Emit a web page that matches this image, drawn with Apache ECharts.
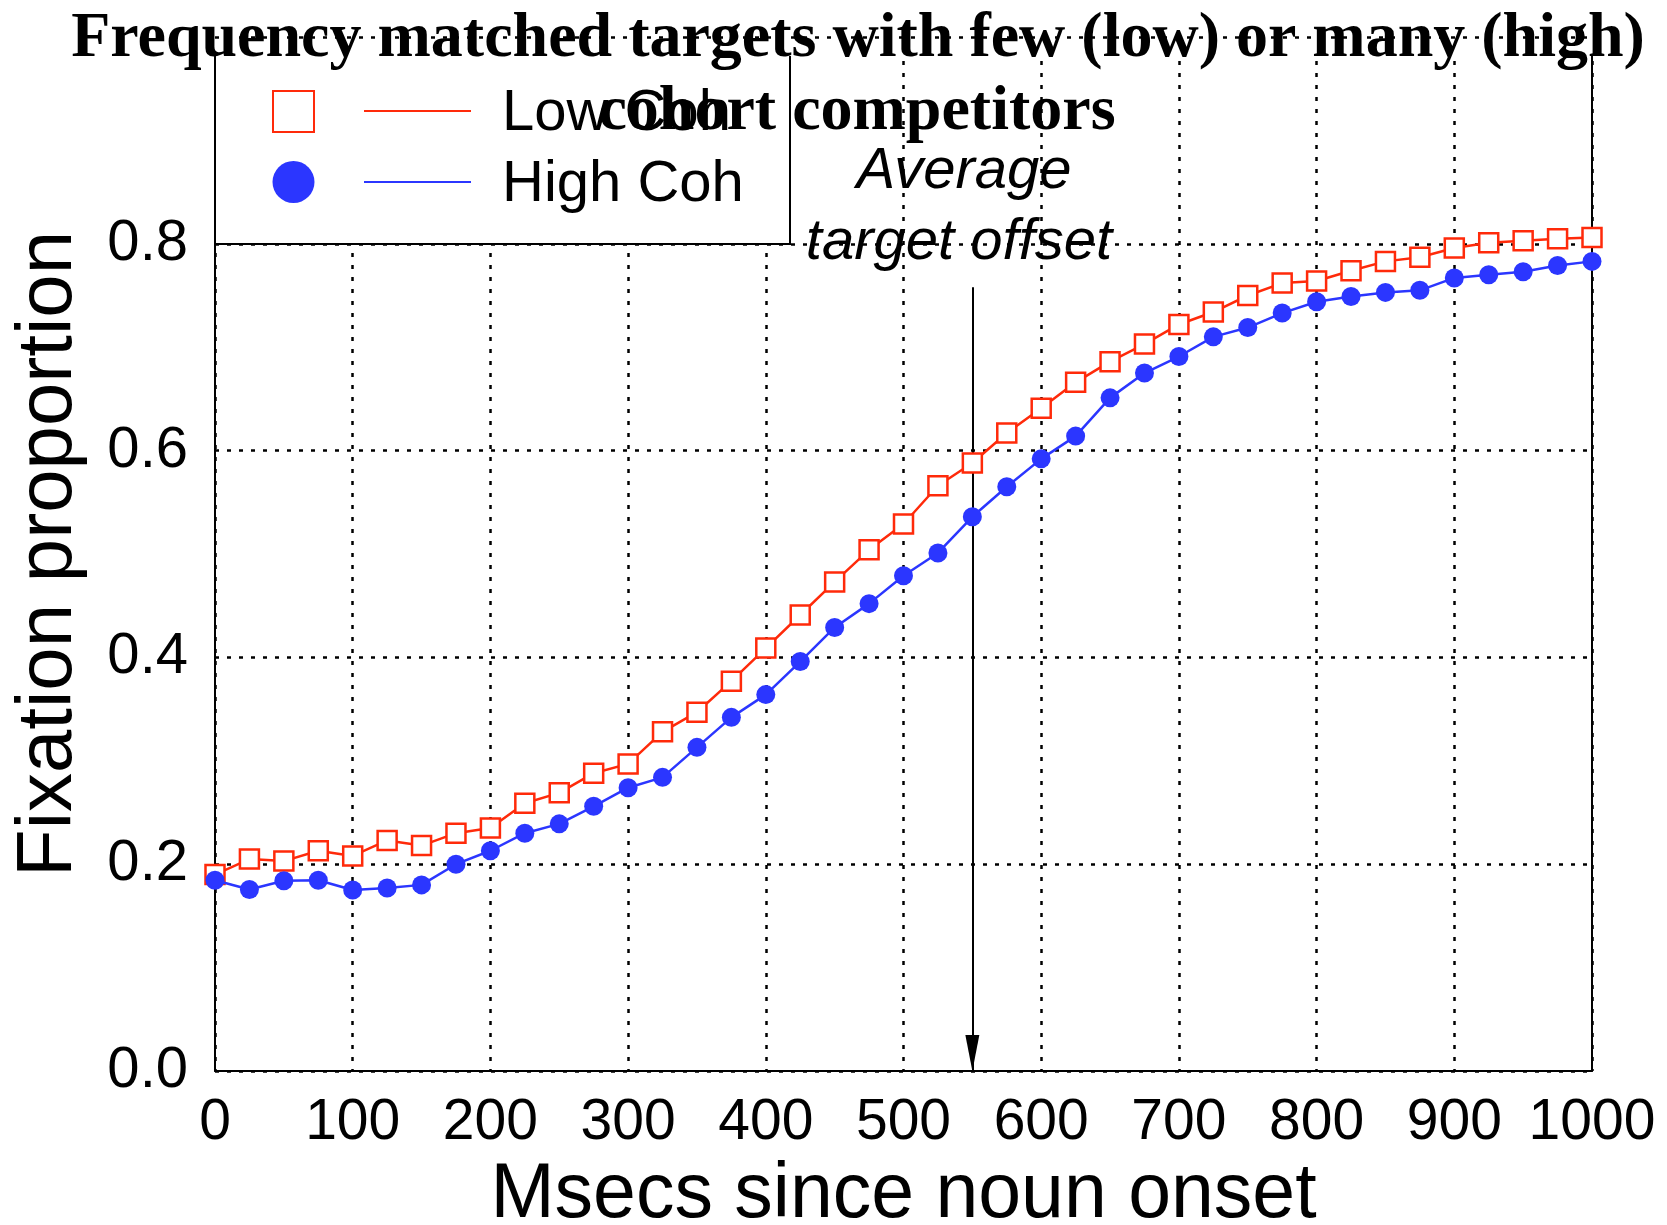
<!DOCTYPE html>
<html><head><meta charset="utf-8">
<script src="https://cdn.jsdelivr.net/npm/echarts@6/dist/echarts.min.js"></script>
<style>html,body{margin:0;padding:0;background:#fff}#c{width:1667px;height:1225px}</style>
</head><body><div id="c"></div>
<script>
const times = [0,25,50,75,100,125,150,175,200,225,250,275,300,325,350,375,400,425,450,475,500,525,550,575,600,625,650,675,700,725,750,775,800,825,850,875,900,925,950,975,1000];
const lowCoh = [0.190,0.205,0.203,0.213,0.208,0.223,0.218,0.230,0.235,0.259,0.269,0.288,0.297,0.328,0.347,0.377,0.409,0.441,0.473,0.504,0.529,0.566,0.588,0.617,0.641,0.666,0.686,0.703,0.722,0.734,0.750,0.762,0.764,0.774,0.783,0.787,0.796,0.801,0.803,0.805,0.806];
const highCoh = [0.1845,0.1755,0.184,0.1845,0.175,0.177,0.180,0.200,0.213,0.230,0.239,0.256,0.274,0.284,0.313,0.342,0.364,0.396,0.429,0.452,0.479,0.501,0.536,0.565,0.592,0.614,0.651,0.675,0.691,0.710,0.719,0.733,0.744,0.749,0.753,0.755,0.767,0.770,0.773,0.779,0.783];
const seriesNames = ['Low Coh', 'High Coh'];
const titleLines = ['Frequency matched targets with few (low) or many (high)', 'cohort competitors'];
const annotationLines = ['Average', 'target offset'];
const arrowAt = 550;
const arrowTop = 0.758;
const yMax = 1;
const xName = 'Msecs since noun onset';
const yName = 'Fixation proportion';

const RED = '#ff2a0a', BLUE = '#2b36ff';
const sans = '"Liberation Sans", Arial, Helvetica, sans-serif';
const serif = '"Liberation Serif", "Times New Roman", serif';
const dotted = { color: '#000', width: 2.5, type: [4, 8] };

const chart = echarts.init(document.getElementById('c'), null, { renderer: 'canvas' });

const option = {
  backgroundColor: '#fff',
  animation: false,
  grid: { left: 215, right: 75, top: 37, bottom: 154, outerBoundsMode: 'none', containLabel: false },
  xAxis: {
    type: 'value', min: 0, max: 1000, interval: 100, z: 0,
    name: xName, nameLocation: 'middle', nameGap: 83,
    nameTextStyle: { fontFamily: sans, fontSize: 77, color: '#000' },
    axisLine: { show: true, onZero: false, lineStyle: { color: '#000', width: 2 } },
    axisTick: { show: false },
    axisLabel: { fontFamily: sans, fontSize: 57, color: '#000', margin: 24, formatter: v => String(v) },
    splitLine: { show: true, lineStyle: dotted }
  },
  yAxis: [
    {
      type: 'value', min: 0, max: yMax, interval: 0.2, z: 2,
      name: yName, nameLocation: 'middle', nameGap: 127,
      nameTextStyle: { fontFamily: sans, fontSize: 78, color: '#000' },
      axisLine: { show: false }, axisTick: { show: false },
      axisLabel: { fontFamily: sans, fontSize: 58, color: '#000', margin: 27, formatter: v => v.toFixed(1) },
      splitLine: { show: true, lineStyle: dotted }
    },
    {
      type: 'value', position: 'right', min: 0, max: yMax, z: 0,
      axisLine: { show: true, lineStyle: { color: '#000', width: 2 } },
      axisTick: { show: false }, axisLabel: { show: false }, splitLine: { show: false }
    },
    {
      type: 'value', position: 'left', min: 0, max: yMax, z: 0,
      axisLine: { show: true, onZero: false, lineStyle: { color: '#000', width: 2 } },
      axisTick: { show: false }, axisLabel: { show: false }, splitLine: { show: false }
    }
  ],
  series: [
    {
      name: seriesNames[0], type: 'line', z: 5, clip: false,
      data: times.map((t, i) => [t, lowCoh[i]]),
      symbol: 'rect', symbolSize: 19,
      itemStyle: { color: '#fff', borderColor: RED, borderWidth: 2.5 },
      lineStyle: { color: RED, width: 2.5 },
      emphasis: { disabled: true },
      markLine: {
        silent: true, z: 5, symbol: ['none', 'none'],
        label: { show: false },
        lineStyle: { color: '#000', width: 2.5, type: [4, 8] },
        emphasis: { disabled: true },
        data: [{ yAxis: yMax }]
      }
    },
    {
      name: seriesNames[1], type: 'line', z: 6, clip: false,
      data: times.map((t, i) => [t, highCoh[i]]),
      symbol: 'circle', symbolSize: 19,
      itemStyle: { color: BLUE, borderWidth: 0 },
      lineStyle: { color: BLUE, width: 2.5 },
      emphasis: { disabled: true },
      markLine: {
        silent: true, z: 4,
        symbol: ['none', 'triangle'], symbolSize: [14, 36], symbolOffset: [0, [0, 18]],
        label: { show: false },
        lineStyle: { color: '#000', width: 2, type: 'solid' },
        emphasis: { disabled: true },
        data: [[{ coord: [arrowAt, arrowTop] }, { coord: [arrowAt, 0] }]]
      }
    }
  ],
  graphic: [
    { type: 'rect', z: 1, silent: true, shape: { x: 215, y: 40, width: 575, height: 204 },
      style: { fill: '#fff', stroke: '#000', lineWidth: 2 } },
    { type: 'rect', z: 3, silent: true, shape: { x: 0, y: 0, width: 1667, height: 56 },
      style: { fill: '#fff' } },
    { type: 'text', z: 7, silent: true, style: { text: titleLines[0], x: 858, y: 39, font: 'bold 64px ' + serif, fill: '#000', align: 'center', verticalAlign: 'middle' } },
    { type: 'text', z: 7, silent: true, style: { text: titleLines[1], x: 857, y: 112, font: 'bold 64px ' + serif, fill: '#000', align: 'center', verticalAlign: 'middle' } },
    { type: 'rect', z: 7, silent: true, shape: { x: 273, y: 91, width: 41, height: 41 },
      style: { fill: '#fff', stroke: RED, lineWidth: 2 } },
    { type: 'line', z: 7, silent: true, shape: { x1: 364, y1: 111, x2: 471, y2: 111 }, style: { stroke: RED, lineWidth: 2 } },
    { type: 'text', z: 7, silent: true, style: { text: seriesNames[0], x: 502, y: 114, font: '58px ' + sans, fill: '#000', align: 'left', verticalAlign: 'middle' } },
    { type: 'circle', z: 7, silent: true, shape: { cx: 293.5, cy: 182, r: 21 }, style: { fill: BLUE } },
    { type: 'line', z: 7, silent: true, shape: { x1: 364, y1: 182, x2: 471, y2: 182 }, style: { stroke: BLUE, lineWidth: 2 } },
    { type: 'text', z: 7, silent: true, style: { text: seriesNames[1], x: 502, y: 185, font: '58px ' + sans, fill: '#000', align: 'left', verticalAlign: 'middle' } },
    { type: 'text', z: 7, silent: true, style: { text: annotationLines[0], x: 964, y: 172, font: 'italic 58px ' + sans, fill: '#000', align: 'center', verticalAlign: 'middle' } },
    { type: 'text', z: 7, silent: true, style: { text: annotationLines[1], x: 959, y: 243, font: 'italic 58px ' + sans, fill: '#000', align: 'center', verticalAlign: 'middle' } }
  ]
};
chart.setOption(option);
</script>
</body></html>
